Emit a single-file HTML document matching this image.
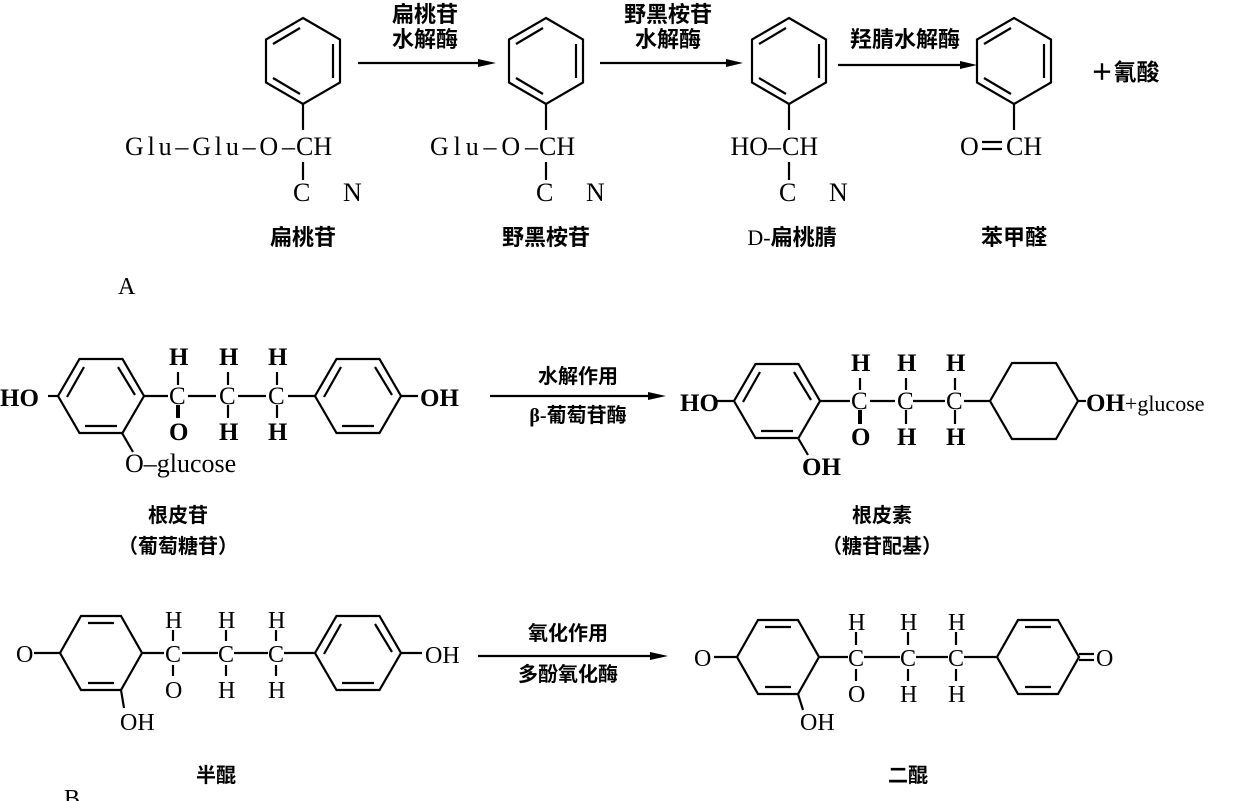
<!DOCTYPE html>
<html><head><meta charset="utf-8"><style>
html,body{margin:0;padding:0;background:#fff;width:1247px;height:801px;overflow:hidden}
svg{display:block}
.t{font-family:"Liberation Serif",serif;fill:#000}
.c{font-family:"Liberation Sans","Noto Sans CJK SC",sans-serif;font-weight:bold;fill:#000}
</style></head><body>
<svg width="1247" height="801" viewBox="0 0 1247 801" xmlns="http://www.w3.org/2000/svg">
<defs>
<g id="benzT" fill="none" stroke="#000" stroke-width="2.2">
<polygon points="0,-43 37,-21.5 37,21.5 0,43 -37,21.5 -37,-21.5"/>
<line x1="-30" y1="-17" x2="-3" y2="-33"/>
<line x1="30" y1="-17" x2="30" y2="17"/>
<line x1="-30" y1="17" x2="-3" y2="33"/>
</g>
<g id="benzS" fill="none" stroke="#000" stroke-width="2.2">
<polygon points="-43,0 -21.5,-37 21.5,-37 43,0 21.5,37 -21.5,37"/>
<line x1="-34" y1="1" x2="-17" y2="-29"/>
<line x1="17" y1="-29" x2="34" y2="-1"/>
<line x1="-16" y1="30" x2="16" y2="30"/>
</g>
<g id="hexS" fill="none" stroke="#000" stroke-width="2.2">
<polygon points="-44,0 -22,-38 22,-38 44,0 22,38 -22,38"/>
</g>
<g id="quin" fill="none" stroke="#000" stroke-width="2.2">
<polygon points="-41,0 -20,-37 20,-37 41,0 20,37 -20,37"/>
<line x1="-13" y1="-30" x2="13" y2="-30"/>
<line x1="-13" y1="30" x2="13" y2="30"/>
</g>
</defs>

<!-- Row A -->
<g stroke="#000" stroke-width="2.2">
<line x1="303" y1="104" x2="303" y2="130"/><line x1="303" y1="162" x2="303" y2="180"/>
<line x1="546" y1="104" x2="546" y2="130"/><line x1="546" y1="162" x2="546" y2="180"/>
<line x1="789" y1="104" x2="789" y2="130"/><line x1="789" y1="162" x2="789" y2="180"/>
<line x1="1014" y1="104" x2="1014" y2="130"/>
<line x1="982" y1="142" x2="1002" y2="142"/><line x1="982" y1="149" x2="1002" y2="149"/>
<line x1="358" y1="63" x2="480" y2="63"/>
<line x1="600" y1="63" x2="728" y2="63"/>
<line x1="838" y1="65" x2="962" y2="65"/>
</g>
<g fill="#000">
<polygon points="478,59 496,63 478,67"/>
<polygon points="726,59 743,63 726,67"/>
<polygon points="960,61 977,65 960,69"/>
</g>
<use href="#benzT" x="303" y="61"/>
<use href="#benzT" x="546" y="61"/>
<use href="#benzT" x="789" y="61"/>
<use href="#benzT" x="1014" y="61"/>
<g class="t" font-size="26">
<text x="125" y="155" textLength="170">Glu–Glu–O–</text>
<text x="296" y="155">CH</text>
<text x="430" y="155" textLength="108">Glu–O–</text>
<text x="539" y="155">CH</text>
<text x="781" y="155" text-anchor="end">HO–</text>
<text x="782" y="155">CH</text>
<text x="960" y="155">O</text>
<text x="1006" y="155">CH</text>
<text x="293" y="201">C</text><text x="343" y="201">N</text>
<text x="536" y="201">C</text><text x="586" y="201">N</text>
<text x="779" y="201">C</text><text x="829" y="201">N</text>
<text x="118" y="294" font-size="24">A</text>
</g>
<g class="c" font-size="22" text-anchor="middle">
<text x="303" y="245">扁桃苷</text>
<text x="546" y="245">野黑桉苷</text>
<text x="792" y="245"><tspan font-family="Liberation Serif" font-weight="normal">D-</tspan>扁桃腈</text>
<text x="1014" y="245">苯甲醛</text>
<text x="425" y="22">扁桃苷</text>
<text x="425" y="47">水解酶</text>
<text x="668" y="22">野黑桉苷</text>
<text x="668" y="47">水解酶</text>
<text x="905" y="47">羟腈水解酶</text>
<text x="1125" y="80" font-size="23">＋氰酸</text>
</g>

<!-- Row B1 -->
<use href="#benzS" x="101" y="396"/>
<use href="#benzS" x="358" y="396"/>
<use href="#benzS" x="777" y="401"/>
<use href="#hexS" x="1034" y="401"/>
<g stroke="#000" stroke-width="2.2">
<line x1="48" y1="396" x2="58" y2="396"/>
<line x1="144" y1="396" x2="168" y2="396"/>
<line x1="188" y1="396" x2="216" y2="396"/>
<line x1="238" y1="396" x2="266" y2="396"/>
<line x1="288" y1="396" x2="315" y2="396"/>
<line x1="401" y1="396" x2="418" y2="396"/>
<line x1="122" y1="433" x2="133" y2="452"/>
<line x1="178" y1="372" x2="178" y2="385"/><line x1="228" y1="372" x2="228" y2="385"/><line x1="277" y1="372" x2="277" y2="385"/>
<line x1="178" y1="405" x2="178" y2="418" stroke-width="4"/><line x1="228" y1="405" x2="228" y2="418"/><line x1="277" y1="405" x2="277" y2="418"/>
<line x1="490" y1="396" x2="650" y2="396"/>
<line x1="820" y1="401" x2="850" y2="401"/>
<line x1="870" y1="401" x2="895" y2="401"/>
<line x1="913" y1="401" x2="945" y2="401"/>
<line x1="964" y1="401" x2="990" y2="401"/>
<line x1="1078" y1="401" x2="1086" y2="401"/>
<line x1="798" y1="438" x2="808" y2="455"/>
<line x1="860" y1="378" x2="860" y2="390"/><line x1="906" y1="378" x2="906" y2="390"/><line x1="955" y1="378" x2="955" y2="390"/>
<line x1="860" y1="410" x2="860" y2="424" stroke-width="4"/><line x1="906" y1="410" x2="906" y2="424"/><line x1="955" y1="410" x2="955" y2="424"/>
<line x1="715" y1="401" x2="734" y2="401"/>
</g>
<polygon points="648,392 666,396 648,400" fill="#000"/>
<g class="t" font-size="25" font-weight="bold">
<text x="0" y="406">HO</text>
<text x="420" y="406">OH</text>
<text x="169" y="365">H</text><text x="219" y="365">H</text><text x="268" y="365">H</text>
<text x="169" y="404" font-weight="normal">C</text><text x="219" y="404" font-weight="normal">C</text><text x="268" y="404" font-weight="normal">C</text>
<text x="169" y="440">O</text><text x="219" y="440">H</text><text x="268" y="440">H</text>
<text x="680" y="411">HO</text>
<text x="851" y="371">H</text><text x="897" y="371">H</text><text x="946" y="371">H</text>
<text x="851" y="409" font-weight="normal">C</text><text x="897" y="409" font-weight="normal">C</text><text x="946" y="409" font-weight="normal">C</text>
<text x="851" y="445">O</text><text x="897" y="445">H</text><text x="946" y="445">H</text>
<text x="802" y="475">OH</text>
<text x="1086" y="411">OH<tspan font-weight="normal" font-size="22">+glucose</tspan></text>
</g>
<text class="t" x="125" y="472" font-size="26">O–glucose</text>
<g class="c" font-size="20" text-anchor="middle">
<text x="578" y="383">水解作用</text>
<text x="578" y="422"><tspan font-family="Liberation Serif">β-</tspan>葡萄苷酶</text>
<text x="178" y="522">根皮苷</text>
<text x="178" y="553">（葡萄糖苷）</text>
<text x="882" y="522">根皮素</text>
<text x="882" y="553">（糖苷配基）</text>
</g>

<!-- Row B2 -->
<use href="#quin" x="101" y="653"/>
<use href="#benzS" x="358" y="653"/>
<use href="#quin" x="778" y="657"/>
<use href="#quin" x="1038" y="657"/>
<g stroke="#000" stroke-width="2.2">
<line x1="34" y1="653" x2="60" y2="653"/>
<line x1="142" y1="653" x2="164" y2="653"/>
<line x1="182" y1="653" x2="218" y2="653"/>
<line x1="234" y1="653" x2="268" y2="653"/>
<line x1="284" y1="653" x2="315" y2="653"/>
<line x1="401" y1="653" x2="422" y2="653"/>
<line x1="121" y1="690" x2="124" y2="708"/>
<line x1="173" y1="630" x2="173" y2="641"/><line x1="226" y1="630" x2="226" y2="641"/><line x1="276" y1="630" x2="276" y2="641"/>
<line x1="173" y1="665" x2="173" y2="676"/><line x1="226" y1="665" x2="226" y2="676"/><line x1="276" y1="665" x2="276" y2="676"/>
<line x1="478" y1="656" x2="652" y2="656"/>
<line x1="714" y1="657" x2="737" y2="657"/>
<line x1="819" y1="657" x2="848" y2="657"/>
<line x1="864" y1="657" x2="900" y2="657"/>
<line x1="916" y1="657" x2="948" y2="657"/>
<line x1="964" y1="657" x2="997" y2="657"/>
<line x1="1079" y1="654" x2="1094" y2="654"/><line x1="1079" y1="660" x2="1094" y2="660"/>
<line x1="798" y1="694" x2="803" y2="710"/>
<line x1="856" y1="632" x2="856" y2="645"/><line x1="908" y1="632" x2="908" y2="645"/><line x1="956" y1="632" x2="956" y2="645"/>
<line x1="856" y1="669" x2="856" y2="681"/><line x1="908" y1="669" x2="908" y2="681"/><line x1="956" y1="669" x2="956" y2="681"/>
</g>
<polygon points="650,652 668,656 650,660" fill="#000"/>
<g class="t" font-size="24">
<text x="16" y="662">O</text>
<text x="425" y="663">OH</text>
<text x="165" y="628">H</text><text x="218" y="628">H</text><text x="268" y="628">H</text>
<text x="165" y="662">C</text><text x="218" y="662">C</text><text x="268" y="662">C</text>
<text x="165" y="698">O</text><text x="218" y="698">H</text><text x="268" y="698">H</text>
<text x="120" y="730">OH</text>
<text x="694" y="666">O</text>
<text x="848" y="630">H</text><text x="900" y="630">H</text><text x="948" y="630">H</text>
<text x="848" y="666">C</text><text x="900" y="666">C</text><text x="948" y="666">C</text>
<text x="848" y="702">O</text><text x="900" y="702">H</text><text x="948" y="702">H</text>
<text x="800" y="730">OH</text>
<text x="1096" y="666">O</text>
<text x="64" y="806">B</text>
</g>
<g class="c" font-size="20" text-anchor="middle">
<text x="568" y="640">氧化作用</text>
<text x="568" y="681">多酚氧化酶</text>
<text x="216" y="782">半醌</text>
<text x="908" y="782">二醌</text>
</g>
</svg>
</body></html>
